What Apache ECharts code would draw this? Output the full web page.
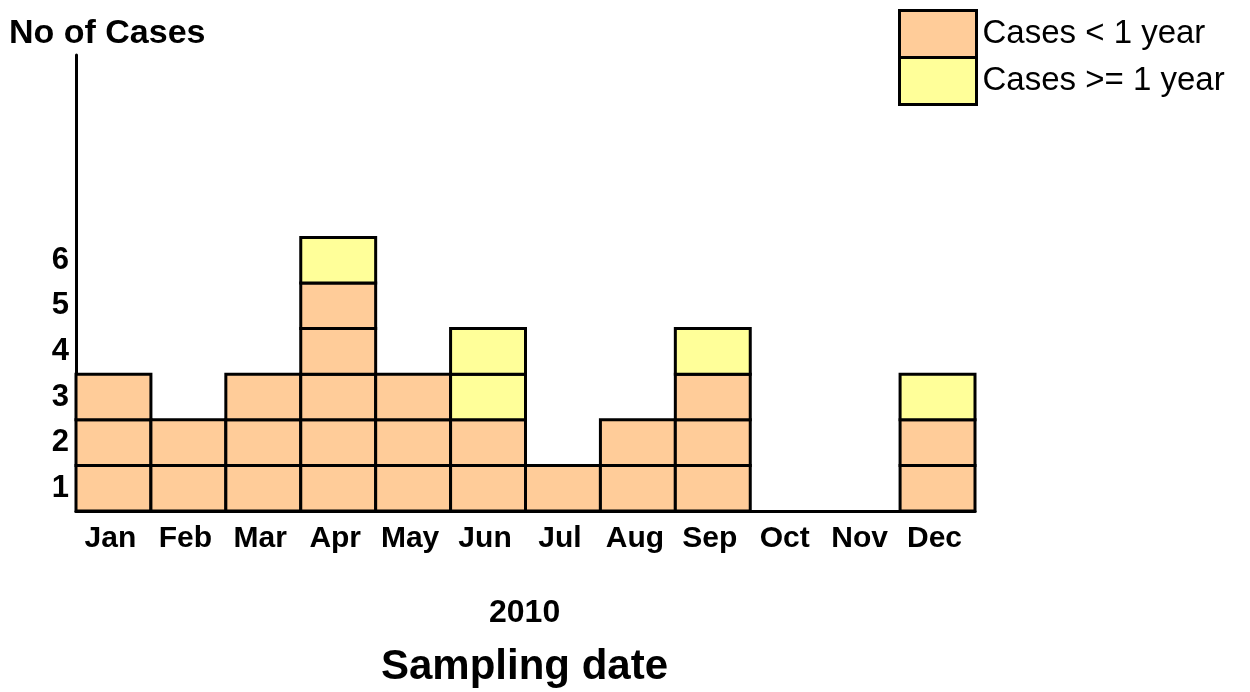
<!DOCTYPE html>
<html>
<head>
<meta charset="utf-8">
<script src="https://cdn.jsdelivr.net/npm/echarts@6/dist/echarts.min.js"></script>
<style>
  html, body { margin: 0; padding: 0; background: #fff; }
  #chart { width: 1250px; height: 692px; }
</style>
</head>
<body>
<div id="chart"></div>
<script>
// Monthly case counts, 2010, split by age group
const months = ['Jan', 'Feb', 'Mar', 'Apr', 'May', 'Jun', 'Jul', 'Aug', 'Sep', 'Oct', 'Nov', 'Dec'];
const casesUnder1 = [3, 2, 3, 5, 3, 2, 1, 2, 3, 0, 0, 2];
const casesOver1 = [0, 0, 0, 1, 0, 2, 0, 0, 1, 0, 0, 1];
const countLabels = ['1', '2', '3', '4', '5', '6', '', '', '', ''];

const FONT = '"Liberation Sans", Arial, sans-serif';
const ORANGE = '#FFCC99';
const YELLOW = '#FFFF99';

// Each case is drawn as its own box, stacked from `base` upwards
function boxRenderer(color) {
  return function (params, api) {
    const idx = api.value(0);
    const count = api.value(1);
    const base = api.value(2);
    const size = api.size([1, 1]);
    const children = [];
    for (let k = 0; k < count; k++) {
      const p = api.coord([idx, base + k + 1]);
      children.push({
        type: 'rect',
        shape: { x: p[0] - size[0] / 2, y: p[1], width: size[0], height: size[1] },
        style: { fill: color, stroke: '#000', lineWidth: 3 }
      });
    }
    return { type: 'group', children: children };
  };
}

const chart = echarts.init(document.getElementById('chart'), null, { renderer: 'canvas' });
chart.setOption({
  animation: false,
  backgroundColor: '#fff',
  textStyle: { fontFamily: FONT },
  grid: { left: 76, right: 275, top: 55, bottom: 181, containLabel: false },
  legend: {
    orient: 'vertical',
    left: 898,
    top: 9,
    padding: 0,
    itemWidth: 77,
    itemHeight: 47,
    itemGap: -3,
    selectedMode: false,
    icon: 'rect',
    textStyle: { fontFamily: FONT, fontSize: 33, color: '#000', padding: [0, 0, 0, 1] },
    data: [
      { name: 'Cases < 1 year', itemStyle: { color: ORANGE, borderColor: '#000', borderWidth: 3 } },
      { name: 'Cases >= 1 year', itemStyle: { color: YELLOW, borderColor: '#000', borderWidth: 3 } }
    ]
  },
  xAxis: {
    type: 'category',
    data: months,
    axisLine: { lineStyle: { color: '#000', width: 3 } },
    axisTick: { show: false },
    axisLabel: { color: '#000', fontWeight: 'bold', fontSize: 30, fontFamily: FONT, margin: 13, interval: 0, padding: [0, 6, 0, 0] }
  },
  yAxis: [
    {
      type: 'value',
      min: 0,
      max: 10,
      interval: 1,
      axisLine: { show: true, lineStyle: { color: '#000', width: 3 } },
      axisTick: { show: false },
      axisLabel: { show: false },
      splitLine: { show: false }
    },
    {
      // count labels centred on each box row
      type: 'category',
      position: 'left',
      data: countLabels,
      axisLine: { show: false },
      axisTick: { show: false },
      splitLine: { show: false },
      axisLabel: { color: '#000', fontWeight: 'bold', fontSize: 31, fontFamily: FONT, margin: 7 }
    }
  ],
  graphic: [
    { type: 'text', left: 9, top: 17, style: { text: 'No of Cases', font: 'bold 34px ' + FONT, fill: '#000' } },
    { type: 'text', left: 489, top: 597, style: { text: '2010', font: 'bold 32px ' + FONT, fill: '#000' } },
    { type: 'text', left: 381, top: 646, style: { text: 'Sampling date', font: 'bold 42px ' + FONT, fill: '#000' } }
  ],
  series: [
    {
      name: 'Cases < 1 year',
      type: 'custom',
      itemStyle: { color: ORANGE },
      renderItem: boxRenderer(ORANGE),
      encode: { x: 0, y: 1 },
      data: months.map((m, i) => [i, casesUnder1[i], 0]),
      z: 2
    },
    {
      name: 'Cases >= 1 year',
      type: 'custom',
      itemStyle: { color: YELLOW },
      renderItem: boxRenderer(YELLOW),
      encode: { x: 0, y: 1 },
      data: months.map((m, i) => [i, casesOver1[i], casesUnder1[i]]),
      z: 2
    }
  ]
});
</script>
</body>
</html>
